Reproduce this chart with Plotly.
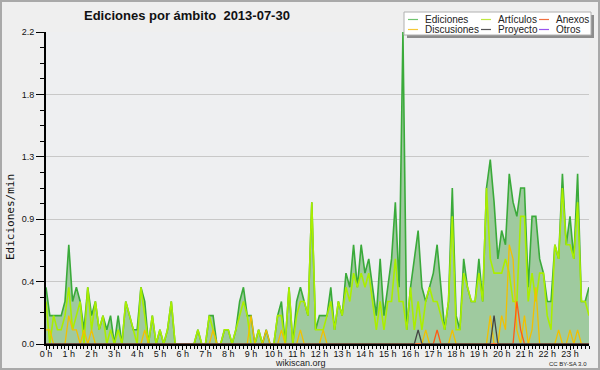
import plotly.graph_objects as go

# ---------------- data (edits per minute, 10-minute bins, 2013-07-30) ----------------
slot_minutes = list(range(0, 1440, 10))

ediciones = [
    0.4, 0.2, 0.2, 0.2, 0.2, 0.3, 0.7, 0.3, 0.4, 0.3, 0.1, 0.4,   # 0 h - 1:50
    0.2, 0.3, 0.1, 0.2, 0.1, 0.2, 0.0, 0.2, 0.0, 0.3, 0.2, 0.1,   # 2 h - 3:50
    0.1, 0.4, 0.3, 0.0, 0.2, 0.0, 0.1, 0.0, 0.1, 0.3, 0.0, 0.0,   # 4 h - 5:50
    0.0, 0.0, 0.0, 0.0, 0.1, 0.0, 0.0, 0.2, 0.2, 0.0, 0.0, 0.1,   # 6 h - 7:50
    0.1, 0.0, 0.1, 0.3, 0.4, 0.2, 0.2, 0.0, 0.1, 0.0, 0.1, 0.0,   # 8 h - 9:50
    0.0, 0.2, 0.3, 0.0, 0.4, 0.0, 0.3, 0.4, 0.3, 0.2, 1.0, 0.1,   # 10 h - 11:50
    0.2, 0.2, 0.2, 0.4, 0.1, 0.3, 0.2, 0.5, 0.4, 0.7, 0.4, 0.7,   # 12 h - 13:50
    0.5, 0.6, 0.4, 0.2, 0.6, 0.2, 0.4, 0.6, 1.0, 0.4, 2.2, 0.1,   # 14 h - 15:50
    0.4, 0.6, 0.8, 0.4, 0.3, 0.4, 0.5, 0.7, 0.4, 0.1, 0.3, 1.1,   # 16 h - 17:50
    0.2, 0.1, 0.6, 0.4, 0.3, 0.3, 0.6, 0.3, 1.1, 1.3, 1.0, 0.6,   # 18 h - 19:50
    0.8, 0.7, 1.2, 1.0, 0.9, 1.1, 1.1, 0.4, 0.9, 0.9, 0.6, 0.5,   # 20 h - 21:50
    0.3, 0.3, 0.7, 0.6, 1.2, 0.7, 0.9, 0.6, 1.2, 0.3, 0.3, 0.4,   # 22 h - 23:50
]

articulos = [
    0.3, 0.0, 0.2, 0.1, 0.1, 0.2, 0.4, 0.1, 0.2, 0.3, 0.0, 0.4,
    0.1, 0.3, 0.1, 0.2, 0.0, 0.1, 0.0, 0.1, 0.0, 0.3, 0.2, 0.1,
    0.0, 0.4, 0.2, 0.0, 0.2, 0.0, 0.1, 0.0, 0.1, 0.3, 0.0, 0.0,
    0.0, 0.0, 0.0, 0.0, 0.1, 0.0, 0.0, 0.2, 0.1, 0.0, 0.0, 0.1,
    0.1, 0.0, 0.1, 0.2, 0.3, 0.2, 0.0, 0.0, 0.1, 0.0, 0.0, 0.0,
    0.0, 0.2, 0.2, 0.0, 0.4, 0.0, 0.2, 0.3, 0.3, 0.2, 1.0, 0.1,
    0.1, 0.1, 0.2, 0.3, 0.1, 0.3, 0.2, 0.4, 0.3, 0.5, 0.4, 0.5,
    0.4, 0.5, 0.3, 0.1, 0.3, 0.1, 0.3, 0.3, 0.6, 0.3, 0.3, 0.1,
    0.4, 0.1, 0.3, 0.1, 0.3, 0.4, 0.3, 0.3, 0.2, 0.1, 0.3, 0.9,
    0.1, 0.1, 0.5, 0.4, 0.3, 0.3, 0.5, 0.3, 1.1, 0.6, 0.5, 0.5,
    0.5, 0.6, 0.5, 0.3, 0.3, 0.9, 0.9, 0.3, 0.5, 0.3, 0.5, 0.5,
    0.2, 0.1, 0.7, 0.6, 1.1, 0.7, 0.7, 0.6, 1.0, 0.3, 0.3, 0.2,
]

discusiones = [
    0.1, 0.1, 0.0, 0.0, 0.0, 0.0, 0.2, 0.1, 0.1, 0.0, 0.1, 0.0,
    0.1, 0.0, 0.0, 0.0, 0.0, 0.0, 0.0, 0.0, 0.0, 0.0, 0.0, 0.0,
    0.0, 0.0, 0.1, 0.0, 0.0, 0.0, 0.0, 0.0, 0.0, 0.0, 0.0, 0.0,
    0.0, 0.0, 0.0, 0.0, 0.0, 0.0, 0.0, 0.0, 0.1, 0.0, 0.0, 0.0,
    0.0, 0.0, 0.0, 0.0, 0.0, 0.0, 0.2, 0.0, 0.0, 0.0, 0.1, 0.0,
    0.0, 0.0, 0.1, 0.0, 0.0, 0.0, 0.0, 0.1, 0.0, 0.0, 0.0, 0.0,
    0.0, 0.1, 0.0, 0.0, 0.0, 0.0, 0.0, 0.0, 0.0, 0.0, 0.0, 0.0,
    0.0, 0.0, 0.0, 0.0, 0.0, 0.0, 0.0, 0.0, 0.0, 0.0, 0.0, 0.0,
    0.0, 0.0, 0.0, 0.0, 0.1, 0.0, 0.0, 0.0, 0.0, 0.0, 0.0, 0.1,
    0.0, 0.0, 0.0, 0.0, 0.0, 0.0, 0.0, 0.0, 0.0, 0.2, 0.0, 0.0,
    0.2, 0.1, 0.7, 0.6, 0.1, 0.0, 0.2, 0.0, 0.1, 0.4, 0.0, 0.0,
    0.0, 0.0, 0.0, 0.1, 0.0, 0.0, 0.1, 0.0, 0.1, 0.0, 0.0, 0.0,
]

proyecto = [0.0] * 144
proyecto_peaks = {98: 0.1, 118: 0.2}          # slot index -> value
anexos = [0.0] * 144
anexos_peaks = {103: 0.1, 124: 0.3, 125: 0.1}
otros = [0.0] * 144
for k, v in proyecto_peaks.items():
    proyecto[k] = v
for k, v in anexos_peaks.items():
    anexos[k] = v

hour_ticks = list(range(24))
hour_labels = [f"{h} h" for h in hour_ticks]
y_ticks = [0.0, 0.44, 0.88, 1.32, 1.76, 2.2]
y_labels = ["0.0", "0.4", "0.9", "1.3", "1.8", "2.2"]

title_text = "Ediciones por ámbito\u00a0\u00a02013-07-30"

# ---------------- figure ----------------
W, H = 600, 370
ML, MR, MT, MB = 46, 11, 32, 26
PW, PH = W - ML - MR, H - MT - MB

x = [m / 60 for m in slot_minutes]

C_ED = "#3aaa3a"
C_FILL = "#9fca9f"
C_ART = "#aaee00"
C_DIS = "#f2c000"
C_PRO = "#444444"
C_ANE = "#ff5a14"
C_OTR = "#9a44ee"

fig = go.Figure()
fig.add_trace(go.Scatter(x=x, y=ediciones, mode="lines", fill="tozeroy",
                         fillcolor=C_FILL, line=dict(color=C_ED, width=1.6),
                         name="Ediciones"))
fig.add_trace(go.Scatter(x=x, y=articulos, mode="lines",
                         line=dict(color=C_ART, width=1.6), name="Artículos"))
fig.add_trace(go.Scatter(x=x, y=discusiones, mode="lines",
                         line=dict(color=C_DIS, width=1.3), name="Discusiones"))
fig.add_trace(go.Scatter(x=x, y=otros, mode="lines",
                         line=dict(color=C_OTR, width=1.2), name="Otros"))
fig.add_trace(go.Scatter(x=x, y=anexos, mode="lines",
                         line=dict(color=C_ANE, width=1.3), name="Anexos"))
fig.add_trace(go.Scatter(x=x, y=proyecto, mode="lines",
                         line=dict(color=C_PRO, width=1.3), name="Proyecto"))

def px2x(px):
    return (px - ML) / PW

def py2y(py):
    return (H - MB - py) / PH

shapes = []
annotations = []

# outer frame
shapes.append(dict(type="rect", xref="paper", yref="paper",
                   x0=px2x(1), x1=px2x(599), y0=py2y(1), y1=py2y(369),
                   line=dict(color="#a9a9a9", width=2), fillcolor="rgba(0,0,0,0)",
                   layer="above"))

# legend box with shadow
shapes.append(dict(type="rect", xref="paper", yref="paper",
                   x0=px2x(407), x1=px2x(594), y0=py2y(15), y1=py2y(38),
                   line=dict(width=0), fillcolor="#8c8c8c", layer="above"))
shapes.append(dict(type="rect", xref="paper", yref="paper",
                   x0=px2x(404), x1=px2x(591), y0=py2y(12), y1=py2y(35),
                   line=dict(color="#b0b0b0", width=1), fillcolor="#ffffff", layer="above"))

legend_items = [
    ("Ediciones", "#70c470", 408, 424, 19.5),
    ("Artículos", "#bfe840", 481, 497, 19.5),
    ("Anexos", "#f07040", 539, 555, 19.5),
    ("Discusiones", "#f5c838", 408, 424, 29.5),
    ("Proyecto", "#555555", 481, 497, 29.5),
    ("Otros", "#9955ee", 539, 555, 29.5),
]
for name, col, lx, tx, ly in legend_items:
    shapes.append(dict(type="line", xref="paper", yref="paper",
                       x0=px2x(lx), x1=px2x(lx + 10), y0=py2y(ly), y1=py2y(ly),
                       line=dict(color=col, width=1.2), layer="above"))
    annotations.append(dict(text=name, xref="paper", yref="paper",
                            x=px2x(tx - 1), y=py2y(ly), xanchor="left", yanchor="middle",
                            showarrow=False,
                            font=dict(family="Liberation Sans", size=10, color="#222222")))

# title
annotations.append(dict(text="<b>" + title_text + "</b>", xref="paper", yref="paper",
                        x=px2x(187), y=py2y(16), xanchor="center", yanchor="middle",
                        showarrow=False,
                        font=dict(family="Liberation Sans", size=13, color="#111111")))
# y axis title
annotations.append(dict(text="Ediciones/min", xref="paper", yref="paper",
                        x=px2x(10), y=py2y(217), xanchor="center", yanchor="middle",
                        textangle=-90, showarrow=False,
                        font=dict(family="DejaVu Sans Mono", size=11, color="#111111")))
# footer
annotations.append(dict(text="wikiscan.org", xref="paper", yref="paper",
                        x=px2x(300), y=py2y(363), xanchor="center", yanchor="middle",
                        showarrow=False,
                        font=dict(family="Liberation Sans", size=9, color="#222222")))
annotations.append(dict(text="CC BY-SA 3.0", xref="paper", yref="paper",
                        x=px2x(589), y=py2y(364), xanchor="right", yanchor="middle",
                        showarrow=False,
                        font=dict(family="Liberation Sans", size=6, color="#222222")))

fig.update_layout(
    width=W, height=H,
    margin=dict(l=ML, r=MR, t=MT, b=MB, pad=0),
    paper_bgcolor="#efefef",
    plot_bgcolor="#eeeff1",
    showlegend=False,
    shapes=shapes,
    annotations=annotations,
    font=dict(family="Liberation Sans", size=9, color="#111111"),
)

fig.update_xaxes(
    range=[0, slot_minutes[-1] / 60],
    tickmode="array", tickvals=hour_ticks, ticktext=hour_labels,
    ticks="outside", ticklen=4, tickwidth=1, tickcolor="#000000",
    ticklabelstandoff=-4,
    showline=True, linecolor="#000000", linewidth=2,
    showgrid=False, zeroline=False,
    tickfont=dict(family="Liberation Sans", size=9, color="#111111"),
    minor=dict(dtick=1 / 6, tick0=0, ticks="outside", ticklen=3, tickwidth=1,
               tickcolor="#000000", showgrid=False),
)
fig.update_yaxes(
    range=[0, 2.2],
    tickmode="array", tickvals=y_ticks, ticktext=y_labels,
    ticks="outside", ticklen=8, tickwidth=1, tickcolor="#000000",
    showline=True, linecolor="#000000", linewidth=2,
    showgrid=True, gridcolor="#c8c8c8", gridwidth=1, zeroline=False,
    tickfont=dict(family="Liberation Sans", size=9, color="#111111"),
    minor=dict(dtick=0.11, tick0=0, ticks="outside", ticklen=4, tickwidth=1,
               tickcolor="#000000", showgrid=False),
)

fig.write_html("out.html", config={"displayModeBar": False},
               post_script="document.body.style.margin='0';")
